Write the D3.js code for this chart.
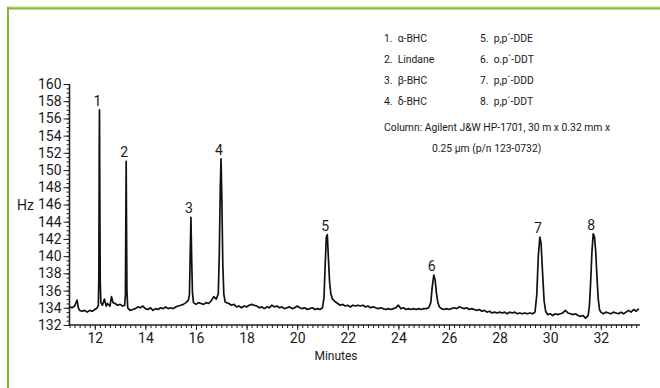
<!DOCTYPE html>
<html>
<head>
<meta charset="utf-8">
<script src="https://cdn.jsdelivr.net/npm/d3@7"></script>
<style>
  body { margin: 0; background: #fff; }
  svg { display: block; }
  text { font-family: "Liberation Sans Narrow", "Arial Narrow", "Roboto", sans-serif; fill: #1a1a1a; }
</style>
</head>
<body>
<div id="chart"></div>
<script>
// chromatogram trace, [minutes, Hz]
let trace = [
  [11.0, 134.1], [11.1, 134.0], [11.2, 134.2], [11.3, 134.9], [11.35, 134.0], [11.4, 133.7], [11.5, 133.6],
  [11.6, 133.7], [11.7, 133.5], [11.8, 133.7], [11.9, 133.6], [12.0, 133.8], [12.1, 134.0],
  [12.14, 134.3], [12.16, 137.5], [12.175, 152.0], [12.185, 157.0], [12.2, 146.0], [12.215, 137.0], [12.24, 134.6],
  [12.3, 134.3], [12.38, 135.0], [12.45, 134.2], [12.5, 134.5], [12.6, 134.2], [12.66, 135.3], [12.72, 134.6],
  [12.8, 134.5], [12.9, 134.3], [13.0, 134.4], [13.1, 134.2], [13.18, 134.3],
  [13.21, 135.5], [13.225, 143.0], [13.24, 151.0], [13.255, 143.0], [13.27, 136.0], [13.3, 134.0],
  [13.4, 133.7], [13.5, 133.8], [13.6, 133.9], [13.7, 134.1], [13.8, 134.0], [13.9, 134.2], [14.0, 133.9],
  [14.1, 133.8], [14.2, 134.0], [14.3, 133.7], [14.4, 133.9], [14.5, 133.8], [14.6, 134.0], [14.7, 133.9],
  [14.8, 134.1], [14.9, 133.9], [15.0, 134.0], [15.1, 133.9], [15.2, 134.1], [15.3, 134.2], [15.4, 134.3],
  [15.5, 134.4], [15.6, 134.6], [15.7, 134.9],
  [15.74, 135.5], [15.77, 140.0], [15.8, 144.5], [15.83, 139.5], [15.86, 135.8], [15.9, 134.6],
  [16.0, 134.4], [16.1, 134.6], [16.2, 134.5], [16.3, 134.4], [16.4, 134.6], [16.5, 134.5], [16.6, 134.8],
  [16.7, 135.3], [16.8, 135.0], [16.88, 135.6],
  [16.92, 140.0], [16.96, 148.0], [16.99, 151.3], [17.02, 147.0], [17.06, 139.0], [17.1, 135.6], [17.15, 134.7],
  [17.2, 134.6], [17.3, 134.5], [17.4, 134.3], [17.5, 134.4], [17.6, 134.1], [17.7, 134.2], [17.8, 134.0],
  [17.9, 134.2], [18.0, 134.1], [18.1, 134.3], [18.2, 134.4], [18.3, 134.3], [18.4, 134.2], [18.5, 134.0],
  [18.6, 134.1], [18.7, 133.9], [18.8, 134.1], [18.9, 134.0], [19.0, 134.3], [19.1, 134.1], [19.2, 134.2],
  [19.3, 134.0], [19.4, 134.1], [19.5, 133.9], [19.6, 134.0], [19.7, 134.1], [19.8, 133.9], [19.9, 134.0],
  [20.0, 134.2], [20.1, 134.0], [20.2, 133.9], [20.3, 134.0], [20.4, 133.8], [20.5, 133.9], [20.6, 134.0],
  [20.7, 133.8], [20.8, 133.9], [20.9, 133.8], [21.0, 134.0],
  [21.06, 135.2], [21.1, 138.5], [21.15, 142.2], [21.19, 142.5], [21.23, 140.0], [21.28, 137.0], [21.33, 135.6], [21.4, 135.0],
  [21.5, 134.7], [21.6, 134.5], [21.7, 134.3], [21.8, 134.4], [21.9, 134.2], [22.0, 134.3], [22.1, 134.1],
  [22.2, 134.3], [22.3, 134.2], [22.4, 134.3], [22.5, 134.2], [22.6, 134.3], [22.7, 134.1], [22.8, 134.2],
  [22.9, 134.0], [23.0, 134.1], [23.1, 134.0], [23.2, 133.9], [23.3, 134.0], [23.4, 133.9], [23.5, 133.8],
  [23.6, 133.9], [23.7, 133.8], [23.8, 133.9], [23.9, 134.0], [24.0, 134.3], [24.1, 133.9], [24.2, 134.0],
  [24.3, 133.8], [24.4, 133.9], [24.5, 133.8], [24.6, 133.9], [24.7, 133.8], [24.8, 133.9], [24.9, 133.8],
  [25.0, 133.9], [25.1, 133.9], [25.2, 134.0],
  [25.28, 134.6], [25.34, 136.5], [25.4, 137.8], [25.45, 137.3], [25.5, 135.8], [25.56, 134.6], [25.62, 134.1],
  [25.7, 133.9], [25.8, 133.8], [25.9, 133.9], [26.0, 133.8], [26.1, 133.9], [26.2, 134.0], [26.3, 133.9],
  [26.4, 134.1], [26.5, 134.0], [26.6, 133.9], [26.7, 134.0], [26.8, 133.8], [26.9, 133.9], [27.0, 133.8],
  [27.1, 133.7], [27.2, 133.8], [27.3, 133.6], [27.4, 133.7], [27.5, 133.5], [27.6, 133.6], [27.7, 133.4],
  [27.8, 133.5], [27.9, 133.4], [28.0, 133.5], [28.1, 133.4], [28.2, 133.5], [28.3, 133.3], [28.4, 133.5],
  [28.5, 133.4], [28.6, 133.5], [28.7, 133.3], [28.8, 133.4], [28.9, 133.3], [29.0, 133.4], [29.1, 133.3],
  [29.2, 133.4], [29.3, 133.3], [29.4, 133.5],
  [29.47, 135.5], [29.53, 140.0], [29.59, 142.2], [29.64, 141.5], [29.7, 138.0], [29.76, 134.8], [29.82, 133.6],
  [29.9, 133.2], [30.0, 133.3], [30.1, 133.1], [30.2, 133.3], [30.3, 133.2], [30.4, 133.3], [30.5, 133.4],
  [30.6, 133.7], [30.7, 133.4], [30.8, 133.3], [30.9, 133.2], [31.0, 133.3], [31.1, 133.1], [31.2, 133.0],
  [31.3, 133.1], [31.4, 132.8], [31.5, 133.1],
  [31.55, 134.2], [31.6, 137.0], [31.65, 140.5], [31.7, 142.6], [31.75, 142.3], [31.8, 140.5], [31.85, 137.5], [31.9, 135.0], [31.95, 133.8],
  [32.0, 133.5], [32.1, 133.3], [32.2, 133.5], [32.3, 133.4], [32.4, 133.3], [32.5, 133.5], [32.6, 133.4],
  [32.7, 133.3], [32.8, 133.5], [32.9, 133.3], [33.0, 133.5], [33.1, 133.7], [33.2, 133.5], [33.3, 133.8],
  [33.4, 133.6], [33.5, 133.9]
];

// peak numbers, their retention times and apex heights
let peakNums = ["1", "2", "3", "4", "5", "6", "7", "8"];
let peakTimes = [12.185, 13.24, 15.8, 16.99, 21.19, 25.4, 29.59, 31.7];
let peakTops = [157.0, 151.0, 144.5, 151.3, 142.5, 137.8, 142.2, 142.6];

// compound list
let compoundsLeft = ["1.  α-BHC", "2.  Lindane", "3.  β-BHC", "4.  δ-BHC"];
let compoundsRight = ["5.  p,p´-DDE", "6.  o.p´-DDT", "7.  p,p´-DDD", "8.  p,p´-DDT"];
let columnText = ["Column: Agilent J&W HP-1701, 30 m x 0.32 mm x", "0.25 µm (p/n 123-0732)"];

// axis ticks
let yTicks = d3.range(132, 161, 2);
let yMinor = d3.range(132, 160.01, 0.5);
let xTicks = d3.range(12, 33, 2);
let xMinor = d3.range(11, 33.56, 0.2);

let width = 660;
let height = 388;
let plot = { left: 69.5, right: 640, top: 84, bottom: 325 };
let narrow = 0.9; // squeeze text to look like the condensed face

let svg = d3.select("#chart").append("svg")
    .attr("width", width)
    .attr("height", height);

//绿色边框
svg.append("rect").attr("x", 7).attr("y", 6.5).attr("width", width - 7).attr("height", 1.2).attr("fill", "#b6da84");
svg.append("rect").attr("x", 7).attr("y", 7.5).attr("width", width - 7).attr("height", 2).attr("fill", "#86bc34");
svg.append("rect").attr("x", 7).attr("y", 7).attr("width", 2).attr("height", height - 7).attr("fill", "#7fb62c");

let x = d3.scaleLinear().domain([11, 33.55]).range([plot.left, plot.right]);
let y = d3.scaleLinear().domain([132, 160]).range([plot.bottom, plot.top]);

//坐标轴
function styleAxis (g) {
    g.attr("font-family", null).attr("font-size", null);
    g.selectAll("text").style("font-size", "14px").attr("fill", "#1a1a1a");
    g.selectAll("line").attr("stroke", "#222");
    g.select(".domain").remove();
}

let gYMinor = svg.append("g").attr("transform", `translate(${plot.left},0)`)
    .call(d3.axisLeft(y).tickValues(yMinor).tickSize(3).tickFormat(""));
styleAxis(gYMinor);
let gY = svg.append("g").attr("transform", `translate(${plot.left},0)`)
    .call(d3.axisLeft(y).tickValues(yTicks).tickSize(6).tickPadding(2).tickFormat(d3.format("d")));
styleAxis(gY);

let gXMinor = svg.append("g").attr("transform", `translate(0,${plot.bottom})`)
    .call(d3.axisBottom(x).tickValues(xMinor).tickSize(3).tickFormat(""));
styleAxis(gXMinor);
let gX = svg.append("g").attr("transform", `translate(0,${plot.bottom})`)
    .call(d3.axisBottom(x).tickValues(xTicks).tickSize(5).tickPadding(3).tickFormat(d3.format("d")));
styleAxis(gX);

// axis lines
svg.append("line").attr("x1", plot.left).attr("x2", plot.left).attr("y1", plot.top).attr("y2", plot.bottom + 0.8)
    .attr("stroke", "#222").attr("stroke-width", 1.6);
svg.append("line").attr("x1", plot.left - 0.8).attr("x2", plot.right).attr("y1", plot.bottom).attr("y2", plot.bottom)
    .attr("stroke", "#222").attr("stroke-width", 1.6);

svg.append("text").attr("x", 34).attr("y", y(146) + 5).attr("text-anchor", "end")
    .style("font-size", "14px").text("Hz");
svg.append("text").attr("x", 336).attr("y", 360).attr("text-anchor", "middle")
    .style("font-size", "12px").text("Minutes");

//色谱曲线
let line = d3.line().x(d => x(d[0])).y(d => y(d[1]));
svg.append("path").datum(trace)
    .attr("d", line)
    .attr("fill", "none")
    .attr("stroke", "#111")
    .attr("stroke-width", 1.7)
    .attr("stroke-linejoin", "round");

// peak labels
svg.append("g").selectAll("text").data(peakNums).enter().append("text")
    .attr("x", (d, i) => x(peakTimes[i]) - 2)
    .attr("y", (d, i) => y(peakTops[i]) - 4)
    .attr("text-anchor", "middle")
    .style("font-size", "14px")
    .text(d => d);

// compound legend, drawn a little narrower
let gLegend = svg.append("g")
    .attr("transform", `translate(384,0) scale(${narrow},1)`)
    .style("font-size", "11.5px");
gLegend.selectAll(".l").data(compoundsLeft).enter().append("text")
    .attr("xml:space", "preserve")
    .attr("x", 0).attr("y", (d, i) => 42 + i * 21).text(d => d);
gLegend.selectAll(".r").data(compoundsRight).enter().append("text")
    .attr("xml:space", "preserve")
    .attr("x", (480 - 384) / narrow).attr("y", (d, i) => 42 + i * 21).text(d => d);
gLegend.append("text").attr("x", 0).attr("y", 131).text(columnText[0]);
gLegend.append("text").attr("x", (432 - 384) / narrow).attr("y", 152).text(columnText[1]);
</script>
</body>
</html>
